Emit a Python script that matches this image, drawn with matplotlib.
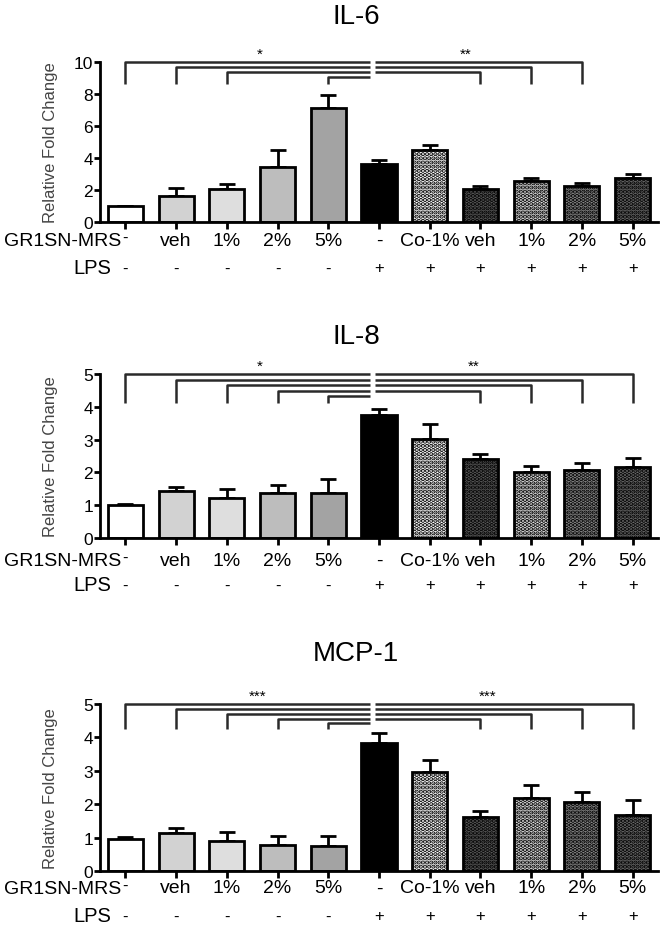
import matplotlib
matplotlib.use('Agg')
import matplotlib.pyplot as plt
import matplotlib.transforms as mtransforms
import numpy as np

plt.rcParams['font.family'] = ['Liberation Sans', 'DejaVu Sans']
plt.rcParams['hatch.linewidth'] = 2.2

# group labels (bottom rows)
gr_labels = ['-', 'veh', '1%', '2%', '5%', '-', 'Co-1%', 'veh', '1%', '2%', '5%']
lps_labels = ['-', '-', '-', '-', '-', '+', '+', '+', '+', '+', '+']

# bar means and upper error ends
il6_mean = [1.0, 1.62, 2.08, 3.44, 7.1, 3.65, 4.48, 2.08, 2.54, 2.25, 2.77]
il6_err = [1.02, 2.15, 2.4, 4.5, 7.94, 3.88, 4.81, 2.25, 2.77, 2.46, 3.02]
il8_mean = [1.0, 1.43, 1.23, 1.38, 1.37, 3.75, 3.02, 2.42, 2.0, 2.08, 2.15]
il8_err = [1.03, 1.57, 1.5, 1.63, 1.8, 3.93, 3.47, 2.55, 2.2, 2.28, 2.43]
mcp1_mean = [0.97, 1.13, 0.9, 0.77, 0.76, 3.84, 2.97, 1.61, 2.18, 2.06, 1.69]
mcp1_err = [1.03, 1.28, 1.18, 1.05, 1.05, 4.13, 3.31, 1.79, 2.58, 2.36, 2.14]

# significance brackets: bars joined on each side of the break
il6_left = [0, 1, 2, 4]
il6_right = [9, 8, 7]
il8_left = [0, 1, 2, 3, 4]
il8_right = [10, 9, 8, 7]
mcp1_left = [0, 1, 2, 3, 4]
mcp1_right = [10, 9, 8, 7]

face = ['white', '#d2d2d2', '#dedede', '#bdbdbd', '#a3a3a3', 'black',
        'white', '#5a5a5a', '#e0e0e0', '#8a8a8a', '#6a6a6a']
hatch = [None, None, None, None, None, None, '....', '....', '....', '....', '....']

W, H = 666, 929


def fy(px):
    # pixel row -> figure fraction
    return 1 - px/float(H)


def draw_panel(fig, ax, title, title_y, mean, err, yticks, left, right,
               top, step, drop, stars, row_y, lps_y):
    x = np.arange(len(mean))
    ax.bar(x, mean, width=0.69, color=face, edgecolor='black', linewidth=2,
           hatch=hatch, zorder=2)
    up = np.array(err) - np.array(mean)
    ax.errorbar(x, mean, yerr=[np.zeros(len(mean)), up], fmt='none',
                ecolor='black', elinewidth=2, capsize=6, capthick=2, zorder=1)
    ax.set_xlim(-0.5, 10.5)
    ax.set_ylim(0, yticks[-1])
    ax.set_yticks(yticks)
    ax.set_xticks(x)
    ax.set_xticklabels([])
    for s in ['top', 'right']:
        ax.spines[s].set_visible(False)
    for s in ['left', 'bottom']:
        ax.spines[s].set_linewidth(2)
    ax.tick_params(axis='y', width=2, length=4, labelsize=12.5, pad=1)
    ax.tick_params(axis='x', width=2, length=5)
    ax.set_ylabel('Relative Fold Change', fontsize=12, color='#444444')
    ax.yaxis.set_label_coords(-0.075, 0.5)

    # brackets
    kw = dict(color='#2a2a2a', lw=1.8, clip_on=False, solid_capstyle='butt')
    for i, b in enumerate(left):
        yy = top - i*step
        ax.plot([b, b, 4.82], [drop, yy, yy], **kw)
    for i, b in enumerate(right):
        yy = top - i*step
        ax.plot([4.92, b, b], [yy, yy, drop], **kw)
    for sx, st in stars:
        ax.text(sx, top + step*0.2, st, ha='center', va='bottom', fontsize=11)

    fig.text(356/float(W), fy(title_y), title, ha='center', va='center', fontsize=20)
    tr = mtransforms.blended_transform_factory(ax.transData, fig.transFigure)
    for i in range(len(gr_labels)):
        if i == 0:
            # dash sits right after the row name, a little raised
            ax.text(i, fy(row_y - 3), gr_labels[i], transform=tr, ha='center',
                    va='center', fontsize=12)
        else:
            ax.text(i, fy(row_y), gr_labels[i], transform=tr, ha='center',
                    va='center', fontsize=14)
        ax.text(i, fy(lps_y), lps_labels[i], transform=tr, ha='center',
                va='center', fontsize=12)
    fig.text(121/float(W), fy(row_y + 1), 'GR1SN-MRS', ha='right', va='center', fontsize=14)
    fig.text(111/float(W), fy(lps_y), 'LPS', ha='right', va='center', fontsize=14.5)


fig = plt.figure(figsize=(W/100.0, H/100.0), dpi=100)
left_x = 100/float(W)
width = 558/float(W)
ax1 = fig.add_axes([left_x, fy(223), width, 160/float(H)])
ax2 = fig.add_axes([left_x, fy(539), width, 164/float(H)])
ax3 = fig.add_axes([left_x, fy(872), width, 167/float(H)])

draw_panel(fig, ax1, 'IL-6', 17, il6_mean, il6_err, [0, 2, 4, 6, 8, 10],
           il6_left, il6_right, 10.0, 0.32, 8.6, [(2.64, '*'), (6.71, '**')], 241, 269)
draw_panel(fig, ax2, 'IL-8', 337, il8_mean, il8_err, [0, 1, 2, 3, 4, 5],
           il8_left, il8_right, 5.0, 0.17, 4.12, [(2.64, '*'), (6.86, '**')], 561, 586)
draw_panel(fig, ax3, 'MCP-1', 654, mcp1_mean, mcp1_err, [0, 1, 2, 3, 4, 5],
           mcp1_left, mcp1_right, 5.0, 0.145, 4.26, [(2.6, '***'), (7.15, '***')], 889, 917)

plt.savefig('out.png', dpi=100)
